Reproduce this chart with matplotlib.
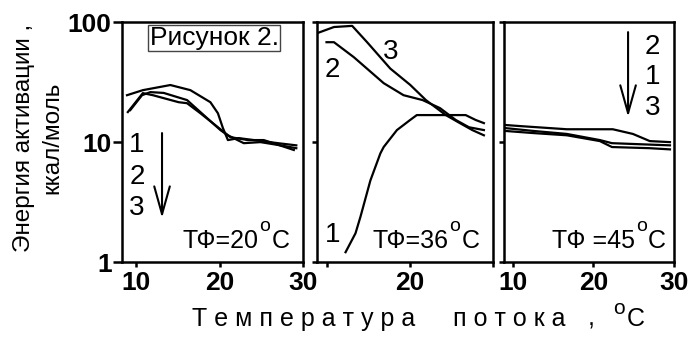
import matplotlib.pyplot as plt
from matplotlib.ticker import NullLocator

plt.rcParams['font.family'] = ['Liberation Sans', 'DejaVu Sans']

# Panel 1: TФ = 20 °C
p1_x1 = [8.9, 10.8, 14.1, 16.5, 18.9, 19.8, 20.4, 21.0, 22.3, 24.1, 27.0, 29.2]
p1_y1 = [24.6, 27.1, 29.9, 27.1, 21.5, 17.4, 13.1, 10.4, 10.8, 10.4, 9.8, 9.4]
p1_x2 = [9.3, 10.7, 11.7, 13.3, 16.1, 18.1, 20.1, 21.3, 23.4, 25.3, 28.9]
p1_y2 = [18.5, 24.6, 26.1, 25.7, 22.4, 16.8, 12.6, 11.0, 10.4, 10.4, 8.6]
p1_x3 = [9.0, 10.8, 12.0, 15.1, 16.1, 17.7, 19.8, 21.0, 22.9, 24.9, 27.3, 29.2]
p1_y3 = [17.8, 25.6, 24.6, 21.5, 21.1, 17.4, 13.3, 11.4, 9.8, 10.0, 9.4, 8.9]

# Panel 2: TФ = 36 °C
p2_x1 = [12.2, 13.4, 14.0, 15.2, 16.4, 16.8, 18.4, 20.0, 20.8, 26.7, 27.9, 28.9]
p2_y1 = [1.21, 1.74, 2.39, 4.8, 8.05, 9.1, 12.6, 15.3, 16.8, 16.8, 15.3, 14.4]
p2_x2 = [9.9, 10.8, 13.2, 16.8, 19.2, 21.5, 23.6, 25.5, 27.1, 28.9]
p2_y2 = [68, 68, 51, 31, 24.6, 22.4, 19.2, 15.3, 13.3, 12.6]
p2_x3 = [8.8, 10.8, 13.0, 14.8, 17.6, 20.0, 21.9, 24.3, 26.0, 27.5, 28.9]
p2_y3 = [81, 91, 93, 68, 41, 30, 22.4, 16.8, 14.4, 12.6, 11.4]

# Panel 3: TФ = 45 °C
p3_x1 = [9.0, 12.5, 16.7, 20.8, 22.3, 25.8, 29.5]
p3_y1 = [13.1, 12.4, 11.7, 10.4, 9.8, 9.6, 9.4]
p3_x2 = [9.0, 10.9, 16.7, 22.4, 24.9, 27.0, 29.5]
p3_y2 = [13.9, 13.6, 12.8, 12.8, 11.7, 10.2, 10.0]
p3_x3 = [9.0, 12.5, 16.7, 20.8, 22.3, 27.0, 29.5]
p3_y3 = [12.4, 11.9, 11.4, 10.2, 9.1, 8.9, 8.7]

x_ticks = [10, 20, 30]
y_ticks = [1, 10, 100]

fig = plt.figure(figsize=(6.9, 3.4), dpi=100)
ax1 = fig.add_axes([0.1768, 0.229, 0.2623, 0.706])
ax2 = fig.add_axes([0.4594, 0.229, 0.2551, 0.706])
ax3 = fig.add_axes([0.7304, 0.229, 0.2464, 0.706])

xlims = [(8.3, 30), (8.75, 30), (8.9, 30)]
for ax, xl in zip([ax1, ax2, ax3], xlims):
    ax.set_yscale('log')
    ax.set_ylim(1, 100)
    ax.set_xlim(*xl)
    ax.set_xticks(x_ticks)
    ax.set_yticks(y_ticks)
    ax.yaxis.set_minor_locator(NullLocator())
    for sp in ax.spines.values():
        sp.set_linewidth(1.8)
    ax.tick_params(axis='x', direction='out', length=3.6, width=1.8, pad=3,
                   labelsize=19)
    ax.tick_params(axis='y', direction='out', length=3.6, width=1.8, pad=1,
                   labelsize=19)
    for lab in ax.get_xticklabels() + ax.get_yticklabels():
        lab.set_fontweight('bold')

ax1.set_yticklabels(['1', '10', '100'])
ax1.tick_params(axis='y', length=6.5)
ax2.set_yticklabels([])
ax3.set_yticklabels([])
ax2.set_xticklabels(['', '20', ''])

lw = 1.6
for x, y in [(p1_x1, p1_y1), (p1_x2, p1_y2), (p1_x3, p1_y3)]:
    ax1.plot(x, y, color='black', lw=lw)
for x, y in [(p2_x1, p2_y1), (p2_x2, p2_y2), (p2_x3, p2_y3)]:
    ax2.plot(x, y, color='black', lw=lw)
for x, y in [(p3_x1, p3_y1), (p3_x2, p3_y2), (p3_x3, p3_y3)]:
    ax3.plot(x, y, color='black', lw=lw)

fs = 18
fd = 20
arrow = dict(arrowstyle='->, head_length=1.0, head_width=0.28', lw=1.5,
             color='black', mutation_scale=20, shrinkA=0, shrinkB=0)


def temp_label(ax, x, y, s):
    # "ТФ=20" + raised "o" + "C"
    t = ax.text(x, y, s, fontsize=fs, ha='left', va='bottom')
    ax.annotate('o', xy=(1, 0), xycoords=t, xytext=(0.5, 12.5),
                textcoords='offset points', fontsize=14, ha='left', va='bottom')
    ax.annotate('C', xy=(1, 0), xycoords=t, xytext=(9, 0),
                textcoords='offset points', fontsize=fs, ha='left', va='bottom')


# panel 1 annotations
for lbl, yv in zip(['1', '2', '3'], [9.4, 5.1, 2.8]):
    ax1.text(10.1, yv, lbl, fontsize=fd, ha='center', va='center')
ax1.annotate('', xy=(13.1, 2.33), xytext=(13.1, 11.9), arrowprops=arrow)
temp_label(ax1, 15.6, 1.2, 'ТФ=20')
ax1.text(11.6, 73.6, 'Рисунок 2.', fontsize=19, ha='left', va='center',
         bbox=dict(facecolor='white', edgecolor='#444444', lw=1.0, pad=1.0))

# panel 2 annotations
ax2.text(17.6, 56, '3', fontsize=fd, ha='center', va='center')
ax2.text(10.6, 39.8, '2', fontsize=fd, ha='center', va='center')
ax2.text(10.6, 1.68, '1', fontsize=fd, ha='center', va='center')
temp_label(ax2, 15.5, 1.2, 'ТФ=36')

# panel 3 annotations
for lbl, yv in zip(['2', '1', '3'], [62, 34.9, 19.2]):
    ax3.text(27.3, yv, lbl, fontsize=fd, ha='center', va='center')
ax3.annotate('', xy=(24.3, 16.2), xytext=(24.3, 82.5), arrowprops=arrow)
temp_label(ax3, 14.9, 1.2, 'ТФ =45')

fig.text(0.055, 0.595, 'Энергия активации ,\nккал/моль', rotation=90,
         fontsize=17.5, ha='center', va='center', linespacing=1.35)

# spaced-out x axis title, word by word
xl_words = ['Т е м п е р а т у р а', 'п о т о к а', ',', 'C']
xl_left = [192, 453, 588, 627]
for w, px in zip(xl_words, xl_left):
    fig.text(px / 690, 0.062, w, fontsize=18, ha='left', va='center')
fig.text(613 / 690, 0.092, 'o', fontsize=15, ha='left', va='center')

fig.savefig('out.png', dpi=100)
